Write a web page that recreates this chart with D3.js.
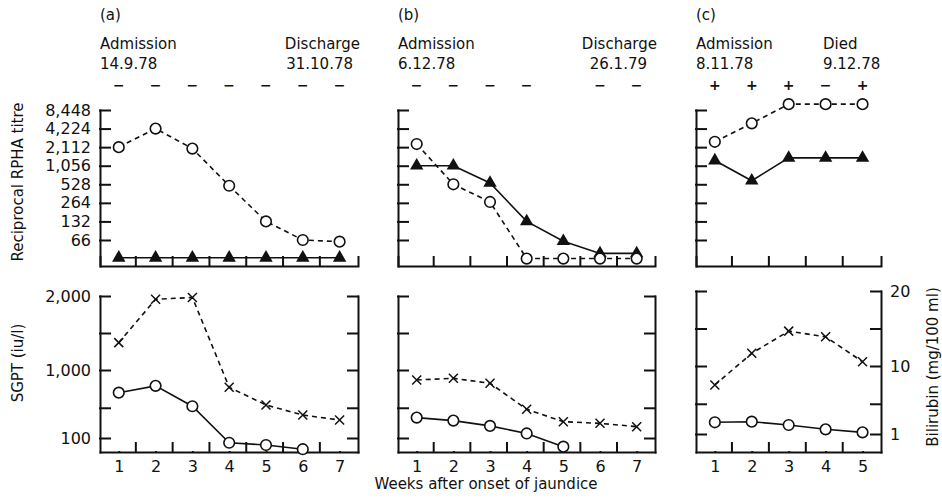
<!DOCTYPE html>
<html>
<head>
<meta charset="utf-8">
<script src="https://cdn.jsdelivr.net/npm/d3@7"></script>
<style>
  body { margin: 0; background: #fff; }
  text { font-family: "DejaVu Sans", sans-serif; fill: #111; }
  .axis path, .axis line { stroke: #111; stroke-width: 2; fill: none; stroke-linecap: square; }
  .axis text { font-size: 16px; font-family: "DejaVu Sans", sans-serif; fill: #111; }
  .head { font-size: 15px; }
  .status { font-size: 14px; font-weight: bold; fill: #111; }
  .title { font-size: 15px; }
</style>
</head>
<body>
<div id="chart"></div>
<script>
// weeks after onset of jaundice
var weeksA = [1, 2, 3, 4, 5, 6, 7];
var weeksB = [1, 2, 3, 4, 5, 6, 7];
var weeksC = [1, 2, 3, 4, 5];

// header text per patient
var headA = ["(a)", "Admission", "14.9.78", "Discharge", "31.10.78"];
var headB = ["(b)", "Admission", "6.12.78", "Discharge", "26.1.79"];
var headC = ["(c)", "Admission", "8.11.78", "Died", "9.12.78"];

// HBsAg result row (weeks tested, sign)
var statusWeeksA = [1, 2, 3, 4, 5, 6, 7];
var statusA = ["\u2212", "\u2212", "\u2212", "\u2212", "\u2212", "\u2212", "\u2212"];
var statusWeeksB = [1, 2, 3, 4, 6, 7];
var statusB = ["\u2212", "\u2212", "\u2212", "\u2212", "\u2212", "\u2212"];
var statusWeeksC = [1, 2, 3, 4, 5];
var statusC = ["+", "+", "+", "\u2212", "+"];

// reciprocal RPHA titre: open circles (dashed) and filled triangles (solid)
var openA   = [2112, 4224, 2000, 500, 132, 66, 62];
var filledA = [34, 34, 34, 34, 34, 34, 34];
var openB   = [2370, 528, 273, 33, 33, 33, 33];
var filledB = [1056, 1056, 555, 132, 63, 40, 40];
var openC   = [2580, 5135, 10500, 10500, 10500];
var filledC = [1282, 603, 1413, 1413, 1413];

// SGPT (crosses, dashed) and bilirubin (circles, solid)
var sgptA = [1370, 1955, 1980, 771, 537, 404, 338];
var biliA = [7.0, 7.9, 5.2, 0.66, 0.5, 0.2];
var sgptB = [868, 890, 824, 480, 316, 294, 250];
var biliB = [3.7, 3.3, 2.6, 1.6, 0.38];
var sgptC = [749, 1169, 1465, 1389, 1057];
var biliC = [2.55, 2.63, 2.19, 1.62, 1.22];

// axis ticks
var titreTicks = [66, 132, 264, 528, 1056, 2112, 4224, 8448];
var sgptTicks = [100, 500, 1000, 1500, 2000];
var sgptLabelled = [100, 1000, 2000];
var biliTicks = [1, 5, 10, 15, 20];
var biliLabelled = [1, 10, 20];

var svg = d3.select("#chart").append("svg")
    .attr("width", 942)
    .attr("height", 502);

var panels = [
  { weeks: weeksA, head: headA, sw: statusWeeksA, st: statusA, open: openA, filled: filledA,
    sgpt: sgptA, bili: biliA, x0: 100, x1: 358, endX: [360, 353], endAnchor: "end",
    bot: [452, 438, 370, 296], labelLeft: true, labelRight: false },
  { weeks: weeksB, head: headB, sw: statusWeeksB, st: statusB, open: openB, filled: filledB,
    sgpt: sgptB, bili: biliB, x0: 398, x1: 655, endX: [657, 647], endAnchor: "end",
    bot: [452, 438, 370, 296], labelLeft: false, labelRight: false },
  { weeks: weeksC, head: headC, sw: statusWeeksC, st: statusC, open: openC, filled: filledC,
    sgpt: sgptC, bili: biliC, x0: 696, x1: 881, endX: [823, 823], endAnchor: "start",
    bot: [452, 434, 366, 291], labelLeft: false, labelRight: true }
];

var fmt = d3.format(",");

function crossPath(s) {
  return "M" + (-s) + "," + (-s) + "L" + s + "," + s + "M" + (-s) + "," + s + "L" + s + "," + (-s);
}

function series(g, x, y, weeks, vals, dashed, marker) {
  var pts = vals.map(function(v, i) { return [weeks[i], v]; });
  g.append("path")
    .datum(pts)
    .attr("fill", "none")
    .attr("stroke", "#111")
    .attr("stroke-width", 1.6)
    .attr("stroke-dasharray", dashed ? "5,4" : null)
    .attr("d", d3.line().x(function(d) { return x(d[0]); }).y(function(d) { return y(d[1]); }));

  var m = g.selectAll(null).data(pts).enter();
  if (marker == "circle") {
    m.append("circle")
      .attr("cx", function(d) { return x(d[0]); })
      .attr("cy", function(d) { return y(d[1]); })
      .attr("r", 5.3)
      .attr("fill", "#fff")
      .attr("stroke", "#111")
      .attr("stroke-width", 1.6);
  } else if (marker == "triangle") {
    m.append("path")
      .attr("transform", function(d) { return "translate(" + x(d[0]) + "," + y(d[1]) + ")"; })
      .attr("d", d3.symbol(d3.symbolTriangle, 78))
      .attr("fill", "#111");
  } else {
    m.append("path")
      .attr("transform", function(d) { return "translate(" + x(d[0]) + "," + y(d[1]) + ")"; })
      .attr("d", crossPath(4.5))
      .attr("stroke", "#111")
      .attr("stroke-width", 1.5);
  }
}

panels.forEach(function(p) {
  var n = p.weeks.length;
  var x = d3.scaleLinear().domain([0.49, n + 0.5]).range([p.x0, p.x1]);
  var mids = p.weeks.slice(0, -1).map(function(w) { return w + 0.45; });

  // header
  var rows = [20, 48.5, 69];
  svg.append("text").attr("class", "head").attr("x", p.x0).attr("y", rows[0]).text(p.head[0]);
  svg.append("text").attr("class", "head").attr("x", p.x0).attr("y", rows[1]).text(p.head[1]);
  svg.append("text").attr("class", "head").attr("x", p.x0).attr("y", rows[2]).text(p.head[2]);
  svg.append("text").attr("class", "head").attr("x", p.endX[0]).attr("y", rows[1])
    .attr("text-anchor", p.endAnchor).text(p.head[3]);
  svg.append("text").attr("class", "head").attr("x", p.endX[1]).attr("y", rows[2])
    .attr("text-anchor", p.endAnchor).text(p.head[4]);

  svg.selectAll(null).data(p.sw).enter().append("text")
    .attr("class", "status")
    .attr("x", function(d) { return x(d); })
    .attr("y", 90)
    .attr("text-anchor", "middle")
    .text(function(d, i) { return p.st[i]; });

  // top panel: RPHA titre
  var yT = d3.scaleLog().base(2).domain([25, 8448]).range([266, 110]);
  var top = svg.append("g");

  top.append("g").attr("class", "axis")
    .attr("transform", "translate(" + p.x0 + ",0)")
    .call(d3.axisLeft(yT).tickValues(titreTicks).tickSize(-10).tickSizeOuter(0).tickPadding(9)
      .tickFormat(function(d) { return p.labelLeft ? fmt(d) : ""; }));

  top.append("g").attr("class", "axis")
    .attr("transform", "translate(0,266)")
    .call(d3.axisBottom(x).tickValues(mids).tickSize(-9).tickSizeOuter(-9).tickFormat(""));

  series(top, x, yT, p.weeks, p.filled, false, "triangle");
  series(top, x, yT, p.weeks, p.open, true, "circle");

  // bottom panel: SGPT and bilirubin
  var ySg = d3.scaleLinear().domain([0, 100, 1000, 2000]).range(p.bot);
  var yBi = d3.scaleLinear().domain([0, 1, 10, 20]).range(p.bot);
  var bot = svg.append("g");

  bot.append("g").attr("class", "axis")
    .attr("transform", "translate(" + p.x0 + ",0)")
    .call(d3.axisLeft(ySg).tickValues(sgptTicks).tickSize(-10).tickSizeOuter(0).tickPadding(9)
      .tickFormat(function(d) { return p.labelLeft && sgptLabelled.indexOf(d) >= 0 ? fmt(d) : ""; }));

  bot.append("g").attr("class", "axis")
    .attr("transform", "translate(" + p.x1 + ",0)")
    .call(d3.axisRight(yBi).tickValues(biliTicks).tickSize(-10).tickSizeOuter(0).tickPadding(9)
      .tickFormat(function(d) { return p.labelRight && biliLabelled.indexOf(d) >= 0 ? d : ""; }));

  bot.append("g").attr("class", "axis")
    .attr("transform", "translate(0," + p.bot[0] + ")")
    .call(d3.axisBottom(x).tickValues(mids).tickSize(-9).tickSizeOuter(0).tickFormat(""));

  var wk = bot.append("g").attr("class", "axis")
    .attr("transform", "translate(0," + p.bot[0] + ")")
    .call(d3.axisBottom(x).tickValues(p.weeks).tickSize(0).tickPadding(9).tickFormat(d3.format("d")));
  wk.select(".domain").remove();

  series(bot, x, yBi, p.weeks, p.bili, false, "circle");
  series(bot, x, ySg, p.weeks, p.sgpt, true, "cross");
});

// axis titles
svg.append("text").attr("class", "title")
  .attr("transform", "translate(22.5,182) rotate(-90)")
  .attr("text-anchor", "middle")
  .text("Reciprocal RPHA titre");

svg.append("text").attr("class", "title")
  .attr("transform", "translate(22.5,363) rotate(-90)")
  .attr("text-anchor", "middle")
  .text("SGPT (iu/l)");

svg.append("text").attr("class", "title")
  .attr("transform", "translate(938,367) rotate(-90)")
  .attr("text-anchor", "middle")
  .text("Bilirubin (mg/100 ml)");

svg.append("text").attr("class", "title")
  .attr("x", 486)
  .attr("y", 488.5)
  .attr("text-anchor", "middle")
  .text("Weeks after onset of jaundice");
</script>
</body>
</html>
